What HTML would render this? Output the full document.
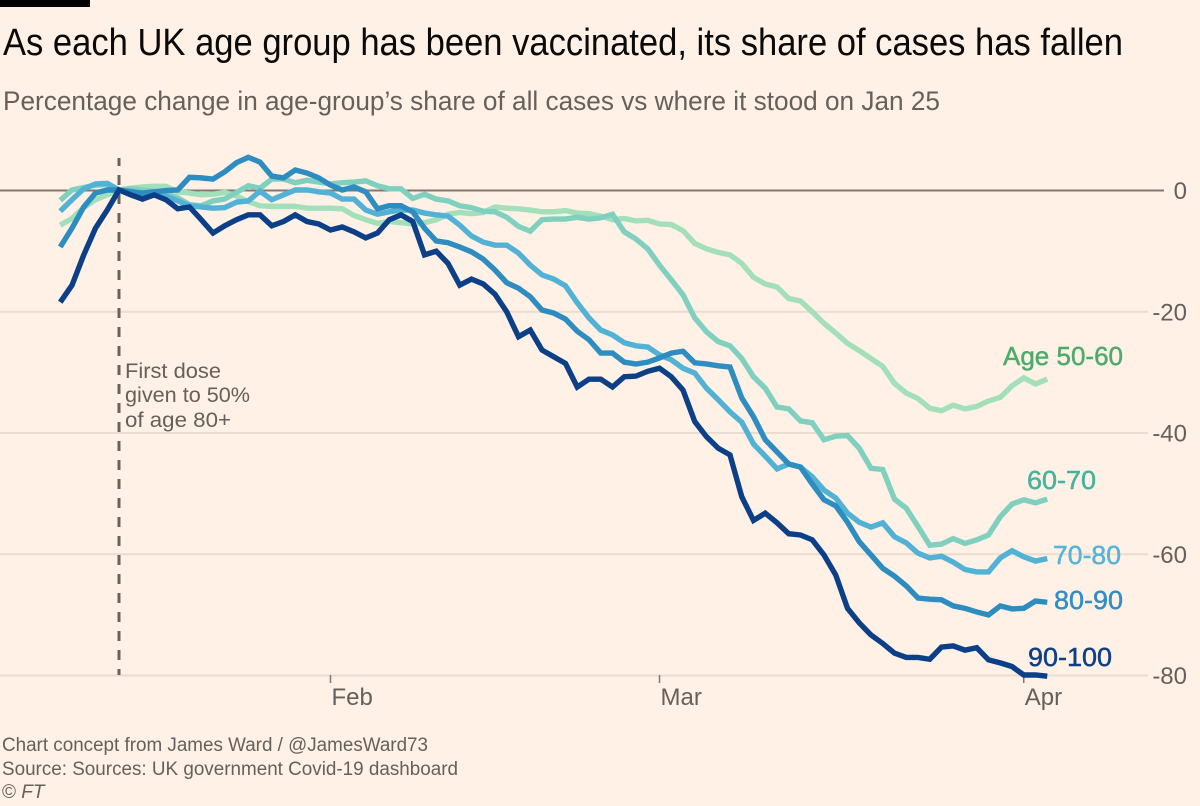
<!DOCTYPE html>
<html lang="en">
<head>
<meta charset="utf-8">
<title>UK age group vaccination chart</title>
<style>
html,body{margin:0;padding:0;background:#fff1e5;}
svg{display:block;font-family:"Liberation Sans",sans-serif;}
</style>
</head>
<body>
<svg id="chart" xmlns="http://www.w3.org/2000/svg" width="1200" height="806" viewBox="0 0 1200 806">
  <rect x="0" y="0" width="1200" height="806" fill="#fff1e5"/>
  <rect x="0" y="0" width="90" height="7" fill="#000"/>
  <text x="3" y="55" font-size="38" fill="#0a0a0a" textLength="1120" lengthAdjust="spacingAndGlyphs">As each UK age group has been vaccinated, its share of cases has fallen</text>
  <text x="3" y="110" font-size="27" fill="#66605c" textLength="937" lengthAdjust="spacingAndGlyphs">Percentage change in age-group’s share of all cases vs where it stood on Jan 25</text>
  <g id="grid"></g>
  <g id="xaxis"></g>
  <line id="marker" y1="158" y2="675" stroke="#6b625c" stroke-width="3" stroke-dasharray="10 9" stroke-dashoffset="2"/>
  <g font-size="21.5" fill="#66605c">
    <text x="125" y="378" textLength="96" lengthAdjust="spacingAndGlyphs">First dose</text>
    <text x="125" y="402" textLength="125" lengthAdjust="spacingAndGlyphs">given to 50%</text>
    <text x="125" y="427" textLength="106" lengthAdjust="spacingAndGlyphs">of age 80+</text>
  </g>
  <g id="series"></g>
  <g font-size="26" stroke-width="0.5">
    <text x="1003" y="365" fill="#4dab6d" stroke="#4dab6d" textLength="120" lengthAdjust="spacingAndGlyphs">Age 50-60</text>
    <text x="1027" y="489" fill="#45b39d" stroke="#45b39d" textLength="69" lengthAdjust="spacingAndGlyphs">60-70</text>
    <text x="1053" y="564" fill="#55b4da" stroke="#55b4da" textLength="68" lengthAdjust="spacingAndGlyphs">70-80</text>
    <text x="1054" y="609" fill="#2f8fc4" stroke="#2f8fc4" textLength="69" lengthAdjust="spacingAndGlyphs">80-90</text>
    <text x="1028" y="666" fill="#0f3f85" stroke="#0f3f85" textLength="84" lengthAdjust="spacingAndGlyphs">90-100</text>
  </g>
  <g font-size="19" fill="#66605c">
    <text x="2" y="751" textLength="426" lengthAdjust="spacingAndGlyphs">Chart concept from James Ward / @JamesWard73</text>
    <text x="2" y="775" textLength="456" lengthAdjust="spacingAndGlyphs">Source: Sources: UK government Covid-19 dashboard</text>
    <text x="2" y="798">© <tspan font-style="italic">FT</tspan></text>
  </g>
</svg>
<script>
const yTicks = [0, -20, -40, -60, -80];
const monthLabels = ['Feb', 'Mar', 'Apr'];
const monthDayIndex = [23, 51, 82];
const markerDayIndex = 5;
const age90 = [-18.5,-15.7,-10.7,-6.3,-3.3,0,-0.8,-1.5,-0.8,-1.6,-3.1,-2.8,-4.9,-7.1,-5.9,-4.9,-4.1,-4.1,-5.9,-5.2,-4.1,-5.2,-5.6,-6.6,-6.1,-6.9,-7.9,-7.1,-4.9,-4.1,-5.2,-10.7,-10.1,-12.1,-15.7,-14.7,-15.5,-17.2,-20.1,-24.2,-23.1,-26.4,-27.5,-28.6,-32.5,-31.2,-31.2,-32.5,-30.8,-30.7,-29.9,-29.4,-30.8,-33,-38.2,-40.7,-42.6,-43.7,-50.6,-54.5,-53.3,-54.9,-56.7,-56.9,-57.7,-60.2,-63.5,-69,-71.4,-73.4,-74.8,-76.4,-77.1,-77.1,-77.4,-75.4,-75.2,-75.9,-75.5,-77.5,-78,-78.6,-80,-80,-80.2];
const age80 = [-9.4,-6.3,-2.8,-0.5,0,0,-0.3,-0.5,-0.3,-0.1,0,2.1,2,1.8,3,4.5,5.4,4.6,2.3,2,3.3,2.8,2,0.8,0,0.5,-0.3,-3.1,-2.6,-2.6,-3.6,-6.3,-8.4,-8.7,-9.4,-10.2,-11.4,-13.2,-15.3,-16.2,-17.6,-19.8,-20.3,-21.3,-23.3,-24.7,-26.9,-26.9,-28.4,-28.7,-28.4,-27.7,-26.9,-26.6,-28.5,-28.7,-29,-29.2,-34.3,-37.4,-41.2,-43.2,-45.2,-45.7,-48.5,-51.1,-52.1,-54.8,-58,-60.2,-62.4,-63.7,-65.3,-67.3,-67.5,-67.6,-68.6,-69,-69.6,-70.1,-68.6,-69.1,-69,-67.8,-68];
const age70 = [-3.5,-1.6,0.2,1,1.1,0,-0.2,-0.6,-0.4,-1,-1.8,-2.6,-2.8,-3,-2.9,-2,-1.8,-0.2,-1.6,-0.8,0,0,-0.3,-0.5,-1.5,-1.5,-3.3,-4,-3.6,-3.3,-3.3,-3.8,-4.1,-4.3,-5.8,-7.6,-8.6,-9.1,-9.1,-10.4,-12.4,-14,-14.7,-15.8,-18.6,-21.1,-23.1,-23.9,-25.2,-25.7,-25.9,-27.2,-28,-29.4,-30.2,-32.7,-34.6,-36.6,-38.3,-41.9,-43.9,-46,-45.2,-45.7,-47.3,-49.5,-50.8,-53.3,-54.8,-55.6,-54.9,-57.2,-58.2,-59.9,-60.7,-60.4,-61.4,-62.6,-63,-63,-60.7,-59.5,-60.5,-61.2,-60.8];
const age60 = [-1.7,0,0.4,0.8,0.9,0,0.2,0,-0.2,-0.6,-1.3,-2.4,-2.6,-1.8,-1.5,-0.4,0.7,0.3,1.8,1.8,1.2,1.6,1.3,1,1.2,1.3,1.5,0.7,0.2,0.2,-1.4,-0.7,-1.5,-1.8,-2.6,-2.9,-3.5,-3.6,-4.5,-6,-6.8,-4.9,-4.8,-4.8,-4.5,-4.8,-4.6,-4,-6.9,-8.1,-9.7,-12.4,-14.8,-17.3,-21.1,-23.4,-25,-25.7,-27.8,-30.8,-32.7,-35.8,-36.1,-38.1,-38.4,-41.2,-40.6,-40.5,-42.6,-45.9,-46.1,-51,-52.5,-55.5,-58.6,-58.4,-57.5,-58.3,-57.7,-56.9,-53.9,-51.8,-51.1,-51.6,-51];
const age50 = [-5.8,-4.7,-2.9,-1.6,-0.8,0,0.3,0.5,0.6,0.6,-0.3,-0.5,-0.8,-0.7,-0.4,-1,-1.9,-2.6,-2.7,-2.7,-2.7,-3,-3,-3,-3.1,-4.2,-4.9,-5.5,-5.2,-5.4,-5.6,-5.4,-4.9,-4,-3.7,-3.9,-3.7,-2.8,-3,-3.1,-3.3,-3.6,-3.6,-3.4,-3.8,-3.9,-4.3,-4.9,-4.7,-5.1,-5,-5.6,-5.7,-6.7,-8.8,-9.7,-10.3,-10.7,-12.1,-14.4,-15.5,-16,-17.9,-18.3,-20.1,-22,-23.6,-25.3,-26.5,-27.8,-29.1,-31.9,-33.5,-34.4,-36,-36.4,-35.5,-36.1,-35.7,-34.8,-34.2,-32.3,-31,-32,-31.2];

const svgNS = 'http://www.w3.org/2000/svg';
function xScale(dayIndex) { return 60.25 + dayIndex * 11.75; }
function yScale(value) { return 190 - value * 6.0625; }

const grid = document.getElementById('grid');
yTicks.forEach(function (tick) {
  const line = document.createElementNS(svgNS, 'line');
  
  
  line.setAttribute('x1', 0);
  line.setAttribute('x2', tick === 0 ? 1164 : 1148);
  line.setAttribute('y1', yScale(tick) + 0.5);
  line.setAttribute('y2', yScale(tick) + 0.5);
  line.setAttribute('stroke', tick === 0 ? '#85776f' : '#ebdcd0');
  line.setAttribute('stroke-width', 2);
  grid.appendChild(line);
  const label = document.createElementNS(svgNS, 'text');
  
  
  label.setAttribute('x', 1187);
  label.setAttribute('y', yScale(tick) + 9);
  label.setAttribute('text-anchor', 'end');
  label.setAttribute('font-size', '24');
  label.setAttribute('fill', '#66605c');
  label.textContent = tick;
  grid.appendChild(label);
});

const xaxis = document.getElementById('xaxis');
monthLabels.forEach(function (name, k) {
  const px = xScale(monthDayIndex[k]);
  const tick = document.createElementNS(svgNS, 'line');
  
  
  tick.setAttribute('x1', px);
  tick.setAttribute('x2', px);
  tick.setAttribute('y1', 675);
  tick.setAttribute('y2', 683);
  tick.setAttribute('stroke', '#85776f');
  tick.setAttribute('stroke-width', 1.5);
  xaxis.appendChild(tick);
  const label = document.createElementNS(svgNS, 'text');
  
  
  label.setAttribute('x', px + 1);
  label.setAttribute('y', 705);
  label.setAttribute('font-size', '24');
  label.setAttribute('fill', '#66605c');
  label.textContent = name;
  xaxis.appendChild(label);
});

const marker = document.getElementById('marker');
marker.setAttribute('x1', xScale(markerDayIndex));
marker.setAttribute('x2', xScale(markerDayIndex));

const seriesGroup = document.getElementById('series');
function drawSeries(values, colour, name) {
  const path = document.createElementNS(svgNS, 'path');
  
  
  const d = values.map(function (v, i) {
    return (i ? 'L' : 'M') + xScale(i).toFixed(2) + ' ' + yScale(v).toFixed(2);
  }).join(' ');
  path.setAttribute('d', d);
  path.setAttribute('fill', 'none');
  path.setAttribute('stroke', colour);
  path.setAttribute('stroke-width', 5.4);
  path.setAttribute('stroke-linejoin', 'miter');
  path.setAttribute('stroke-miterlimit', 3);
  seriesGroup.appendChild(path);
}
drawSeries(age50, '#a3dfb9', 'line-age-50-60');
drawSeries(age60, '#80d0c0', 'line-age-60-70');
drawSeries(age70, '#52b2d6', 'line-age-70-80');
drawSeries(age80, '#2d8dc0', 'line-age-80-90');
drawSeries(age90, '#0b4088', 'line-age-90-100');
</script>
</body>
</html>
